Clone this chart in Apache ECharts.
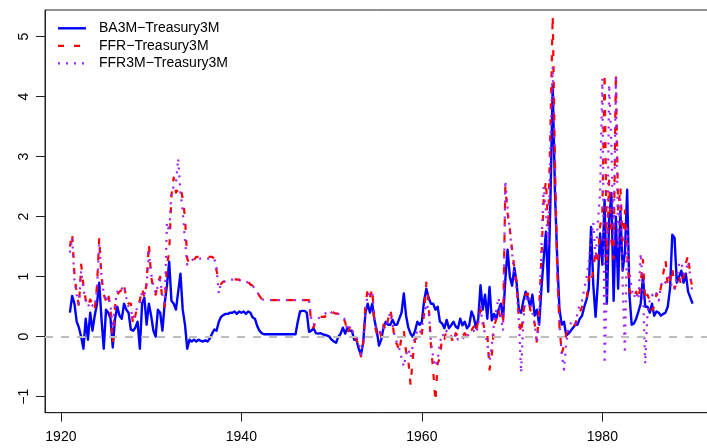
<!DOCTYPE html>
<html>
<head>
<meta charset="utf-8">
<script src="https://cdn.jsdelivr.net/npm/echarts@6/dist/echarts.min.js"></script>
<style>
  html, body { margin: 0; padding: 0; background: #ffffff; }
  #chart { width: 707px; height: 448px; }
</style>
</head>
<body>
<div id="chart"></div>
<script>
// Quarterly spreads (percentage points), first observation 1921 Q1
const startYear = 1921;
const stepYears = 0.25;

const seriesNames = ['BA3M\u2212Treasury3M', 'FFR\u2212Treasury3M', 'FFR3M\u2212Treasury3M'];
const xTicks = [1920, 1940, 1960, 1980];
const yTicks = [-1, 0, 1, 2, 3, 4, 5];

// Bankers' acceptance 3M minus Treasury 3M
const ba3m = [
  0.40, 0.68, 0.55, 0.25,   // 1921
  0.15, 0.00, -0.20, 0.30,  // 1922
  -0.05, 0.40, 0.10, 0.35,  // 1923
  0.55, 0.90, 0.30, -0.20,  // 1924
  0.45, 0.40, 0.30, -0.18,  // 1925
  0.30, 0.50, 0.35, 0.30,   // 1926
  0.55, 0.45, 0.40, 0.12,   // 1927
  0.10, 0.15, 0.25, -0.20,  // 1928
  0.55, 0.65, 0.20, 0.55,   // 1929
  0.35, 0.10, 0.00, 0.45,   // 1930
  0.40, 0.10, 0.55, 0.85,   // 1931
  1.25, 0.60, 0.55, 0.45,   // 1932
  0.75, 1.05, 0.45, 0.20,   // 1933
  -0.20, -0.05, -0.08, -0.05, // 1934
  -0.08, -0.05, -0.07, -0.08, // 1935
  -0.06, -0.08, -0.03, 0.05,  // 1936
  0.12, 0.10, 0.25, 0.33,   // 1937
  0.36, 0.38, 0.38, 0.40,   // 1938
  0.40, 0.42, 0.38, 0.42,   // 1939
  0.40, 0.42, 0.38, 0.42,   // 1940
  0.40, 0.32, 0.30, 0.18,   // 1941
  0.10, 0.06, 0.04, 0.04,   // 1942
  0.04, 0.04, 0.04, 0.04,   // 1943
  0.04, 0.04, 0.04, 0.04,   // 1944
  0.04, 0.04, 0.04, 0.04,   // 1945
  0.04, 0.25, 0.42, 0.43,   // 1946
  0.43, 0.40, 0.08, 0.10,   // 1947
  0.14, 0.06, 0.05, 0.06,   // 1948
  0.04, 0.03, 0.02, 0.00,   // 1949
  -0.05, -0.08, -0.10, 0.00, // 1950
  0.05, 0.15, 0.05, 0.15,   // 1951
  0.10, 0.10, -0.05, -0.05, // 1952
  -0.20, -0.30, -0.10, 0.40, // 1953
  0.55, 0.40, 0.55, 0.28,   // 1954
  0.10, -0.15, -0.05, 0.15, // 1955
  0.25, 0.20, 0.20, 0.28,   // 1956
  0.20, 0.20, 0.30, 0.40,   // 1957
  0.72, 0.35, 0.15, 0.05,   // 1958
  0.00, 0.10, 0.25, 0.20,   // 1959
  0.25, 0.60, 0.80, 0.65,   // 1960
  0.55, 0.55, 0.45, 0.50,   // 1961
  0.25, 0.22, 0.14, 0.28,   // 1962
  0.14, 0.19, 0.25, 0.17,   // 1963
  0.14, 0.30, 0.19, 0.25,   // 1964
  0.14, 0.19, 0.42, 0.33,   // 1965
  0.15, 0.30, 0.86, 0.45,   // 1966
  0.70, 0.30, 0.83, 0.27,   // 1967
  0.38, 0.30, 0.45, 0.55,   // 1968
  0.30, 0.95, 1.45, 1.00,   // 1969
  0.85, 1.15, 0.90, 0.45,   // 1970
  0.40, 0.60, 0.75, 0.65,   // 1971
  0.50, 0.70, 0.35, 0.45,   // 1972
  0.20, 0.80, 1.30, 1.75,   // 1973
  0.75, 2.30, 4.20, 2.40,   // 1974
  1.30, 0.45, 0.20, 0.25,   // 1975
  0.02, 0.05, 0.10, 0.15,   // 1976
  0.20, 0.20, 0.30, 0.35,   // 1977
  0.50, 0.62, 0.80, 1.83,   // 1978
  0.85, 0.33, 0.90, 1.72,   // 1979
  1.20, 2.28, 0.55, 1.94,   // 1980
  2.39, 0.60, 2.00, 0.80,   // 1981
  2.10, 1.10, 1.40, 2.45,   // 1982
  0.70, 0.20, 0.22, 0.30,   // 1983
  0.42, 0.55, 1.00, 0.50,   // 1984
  0.50, 0.40, 0.55, 0.35,   // 1985
  0.42, 0.40, 0.35, 0.38,   // 1986
  0.40, 0.50, 0.80, 1.70,   // 1987
  1.65, 0.90, 1.00, 1.10,   // 1988
  0.90, 1.05, 0.75, 0.65,   // 1989
  0.55                      // 1990
];

// Federal funds (call money) rate minus Treasury 3M
const ffr = [
  1.50, 1.72, 1.05, 0.72,   // 1921
  0.50, 1.20, 0.85, 0.62,   // 1922
  0.50, 0.62, 0.55, 0.45,   // 1923
  0.85, 1.65, 1.00, 0.70,   // 1924
  0.60, 0.72, 0.45, -0.10,  // 1925
  0.50, 0.70, 0.75, 0.78,   // 1926
  0.88, 0.60, 0.55, 0.55,   // 1927
  0.20, 0.35, 0.55, 0.60,   // 1928
  0.80, 0.65, 0.90, 1.55,   // 1929
  1.00, 0.80, 0.70, 0.90,   // 1930
  1.00, 0.60, 0.50, 1.20,   // 1931
  1.40, 2.35, 2.65, 2.40,   // 1932
  2.45, 2.50, 2.30, 2.00,   // 1933
  1.30, 1.20, 1.25, 1.28,   // 1934
  1.33, 1.33, 1.33, 1.33,   // 1935
  1.33, 1.33, 1.33, 1.33,   // 1936
  1.30, 1.10, 0.95, 0.88,   // 1937
  0.92, 0.92, 0.92, 0.95,   // 1938
  0.95, 0.96, 0.95, 0.95,   // 1939
  0.90, 0.90, 0.92, 0.92,   // 1940
  0.87, 0.85, 0.80, 0.75,   // 1941
  0.68, 0.63, 0.61, 0.61,   // 1942
  0.61, 0.61, 0.61, 0.61,   // 1943
  0.61, 0.61, 0.61, 0.61,   // 1944
  0.61, 0.61, 0.61, 0.61,   // 1945
  0.61, 0.61, 0.61, 0.61,   // 1946
  0.61, 0.61, 0.61, 0.22,   // 1947
  0.15, 0.28, 0.33, 0.33,   // 1948
  0.33, 0.33, 0.40, 0.44,   // 1949
  0.42, 0.40, 0.38, 0.40,   // 1950
  0.38, 0.30, 0.25, 0.05,   // 1951
  0.15, 0.12, 0.00, -0.05,  // 1952
  -0.15, -0.33, -0.10, 0.55, // 1953
  0.78, 0.65, 0.80, 0.20,   // 1954
  0.05, 0.15, 0.00, 0.20,   // 1955
  0.10, 0.28, 0.45, 0.25,   // 1956
  -0.10, -0.12, -0.25, 0.00, // 1957
  0.10, -0.25, -0.40, -0.80, // 1958
  -0.35, -0.05, 0.00, 0.10, // 1959
  0.05, 0.40, 0.90, 0.55,   // 1960
  -0.15, -0.55, -1.08, -0.45, // 1961
  -0.35, 0.00, -0.04, 0.11, // 1962
  0.06, 0.00, -0.11, 0.06,  // 1963
  0.00, -0.05, 0.00, 0.06,  // 1964
  0.00, 0.11, 0.11, 0.17,   // 1965
  0.06, 0.28, 0.45, 0.28,   // 1966
  0.06, 0.05, -0.55, -0.30, // 1967
  0.17, 0.30, 0.45, 0.28,   // 1968
  0.22, 2.50, 2.05, 1.80,   // 1969
  1.45, 1.15, 0.90, 0.30,   // 1970
  0.05, 0.40, 0.70, 0.72,   // 1971
  0.45, 0.39, 0.22, -0.10,  // 1972
  0.50, 1.30, 2.28, 2.60,   // 1973
  1.80, 3.50, 5.35, 2.90,   // 1974
  1.10, 0.17, -0.28, -0.15, // 1975
  0.05, 0.12, 0.12, 0.18,   // 1976
  0.20, 0.35, 0.40, 0.50,   // 1977
  0.55, 0.60, 1.00, 0.90,   // 1978
  1.10, 1.45, 1.20, 1.83,   // 1979
  2.10, 4.39, 1.28, 2.60,   // 1980
  1.60, 1.30, 4.39, 2.10,   // 1981
  2.50, 1.60, 2.10, 1.40,   // 1982
  0.80, 0.65, 0.65, 0.75,   // 1983
  0.62, 0.90, 1.28, 0.60,   // 1984
  0.70, 0.60, 0.44, 0.50,   // 1985
  0.72, 0.65, 0.83, 1.05,   // 1986
  1.28, 0.83, 0.95, 1.15,   // 1987
  0.80, 0.90, 1.00, 0.85,   // 1988
  1.00, 1.22, 1.36, 1.00,   // 1989
  0.78                      // 1990
];

// Three-month federal funds rate minus Treasury 3M
const ffr3m = [
  1.40, 1.65, 0.95, 0.70,   // 1921
  0.55, 1.10, 0.80, 0.60,   // 1922
  0.50, 0.58, 0.52, 0.50,   // 1923
  0.80, 1.55, 1.00, 0.72,   // 1924
  0.58, 0.68, 0.50, 0.15,   // 1925
  0.55, 0.75, 0.72, 0.80,   // 1926
  0.85, 0.65, 0.50, 0.45,   // 1927
  0.30, 0.40, 0.50, 0.55,   // 1928
  0.75, 0.70, 0.85, 1.40,   // 1929
  1.05, 0.85, 0.72, 0.85,   // 1930
  0.95, 0.70, 0.55, 1.90,   // 1931
  1.75, 2.40, 2.50, 2.55,   // 1932
  2.97, 2.40, 2.10, 1.60,   // 1933
  1.20, 1.25, 1.27, 1.30,   // 1934
  1.30, 1.30, 1.30, 1.30,   // 1935
  1.30, 1.30, 1.30, 1.30,   // 1936
  1.30, 1.15, 0.72, 0.90,   // 1937
  0.92, 0.92, 0.93, 0.95,   // 1938
  0.95, 0.95, 0.95, 0.95,   // 1939
  0.92, 0.92, 0.92, 0.90,   // 1940
  0.88, 0.85, 0.80, 0.75,   // 1941
  0.68, 0.63, 0.61, 0.61,   // 1942
  0.61, 0.61, 0.61, 0.61,   // 1943
  0.61, 0.61, 0.61, 0.61,   // 1944
  0.61, 0.61, 0.61, 0.61,   // 1945
  0.61, 0.61, 0.61, 0.61,   // 1946
  0.61, 0.61, 0.61, 0.30,   // 1947
  0.20, 0.25, 0.30, 0.33,   // 1948
  0.35, 0.38, 0.42, 0.44,   // 1949
  0.40, 0.42, 0.40, 0.38,   // 1950
  0.36, 0.32, 0.28, 0.10,   // 1951
  0.18, 0.10, 0.05, 0.00,   // 1952
  -0.10, -0.30, -0.05, 0.45, // 1953
  0.72, 0.70, 0.75, 0.30,   // 1954
  0.10, 0.10, 0.05, 0.15,   // 1955
  0.15, 0.30, 0.40, 0.20,   // 1956
  0.00, -0.10, -0.20, -0.35, // 1957
  -0.50, -0.30, -0.20, -0.35, // 1958
  -0.15, 0.00, 0.10, 0.05,  // 1959
  0.15, 0.35, 0.55, 0.45,   // 1960
  -0.05, -0.35, -0.50, -0.40, // 1961
  -0.10, 0.05, 0.00, 0.10,  // 1962
  0.05, 0.00, -0.05, 0.05,  // 1963
  -0.05, -0.05, 0.00, -0.05, // 1964
  0.00, 0.05, 0.10, 0.10,   // 1965
  0.05, 0.20, 0.50, 0.20,   // 1966
  0.05, -0.10, -0.40, -0.15, // 1967
  0.25, 0.45, 0.65, 0.35,   // 1968
  0.10, 2.60, 2.15, 1.75,   // 1969
  1.40, 1.00, 0.80, 0.25,   // 1970
  -0.60, 0.30, 0.60, 0.70,  // 1971
  0.55, 0.40, 0.20, -0.10,  // 1972
  0.30, 1.50, 2.50, 2.10,   // 1973
  1.50, 3.20, 4.50, 2.90,   // 1974
  1.00, 0.20, -0.30, -0.55, // 1975
  -0.10, 0.15, 0.22, 0.25,  // 1976
  0.20, 0.40, 0.55, 0.60,   // 1977
  0.80, 1.00, 1.25, 1.60,   // 1978
  1.90, 1.30, 1.90, 2.40,   // 1979
  4.30, -0.45, 0.80, 4.20,  // 1980
  3.20, 1.60, 4.30, 1.50,   // 1981
  2.30, 0.90, -0.28, 1.80,  // 1982
  1.10, 0.80, 0.65, 0.75,   // 1983
  0.62, 1.39, 0.80, -0.45,  // 1984
  0.40, 0.60, 0.70, 0.65,   // 1985
  0.72, 0.60, 0.85, 0.95,   // 1986
  0.90, 1.00, 0.95, 0.80,   // 1987
  0.78, 1.00, 1.20, 1.25,   // 1988
  1.05, 1.10, 1.25, 1.00,   // 1989
  0.70                      // 1990
];

// Pair each value with its calendar time
function toPairs(values) {
  return values.map((v, i) => [startYear + i * stepYears, v]);
}

const FONT = "'Liberation Sans', Arial, Helvetica, sans-serif";
const AXIS_COLOR = '#222222';
const COLORS = ['#0000ff', '#ff0000', '#a020f0'];
const DASHES = ['solid', [6, 10], [2, 6]];
const WIDTHS = [2.4, 2.2, 2.2];

const chart = echarts.init(document.getElementById('chart'), null, { renderer: 'canvas' });

// Borderless legend in the top-left corner of the plot box
const legendRows = seriesNames.map((name, i) => {
  const y = 28.3 + i * 17.5;
  return [
    {
      type: 'line',
      shape: { x1: 58, y1: y, x2: 86, y2: y },
      style: {
        stroke: COLORS[i],
        lineWidth: WIDTHS[i],
        lineDash: Array.isArray(DASHES[i]) ? DASHES[i] : null
      }
    },
    {
      type: 'text',
      x: 99,
      y: y,
      style: {
        text: name,
        fill: '#000000',
        font: '14px ' + FONT,
        textAlign: 'left',
        textVerticalAlign: 'middle'
      }
    }
  ];
}).flat();

const option = {
  animation: false,
  backgroundColor: '#ffffff',
  grid: {
    left: 45,
    right: -10.5,
    top: 10,
    bottom: 35.3,
    containLabel: false,
    outerBoundsMode: 'none',
    show: true,
    borderColor: AXIS_COLOR,
    borderWidth: 1,
    backgroundColor: 'transparent'
  },
  xAxis: {
    type: 'value',
    min: 1918.24,
    max: 1992.76,
    splitLine: { show: false },
    axisLine: { show: true, onZero: false, lineStyle: { color: AXIS_COLOR, width: 1 } },
    axisTick: { show: true, length: 9, lineStyle: { color: AXIS_COLOR }, customValues: xTicks },
    axisLabel: {
      customValues: xTicks,
      margin: 17,
      color: '#000000',
      fontSize: 14,
      fontFamily: FONT,
      formatter: (v) => String(v)
    }
  },
  yAxis: {
    type: 'value',
    min: -1.267,
    max: 5.445,
    splitLine: { show: false },
    axisLine: { show: true, onZero: false, lineStyle: { color: AXIS_COLOR, width: 1 } },
    axisTick: { show: true, length: 9, lineStyle: { color: AXIS_COLOR }, customValues: yTicks },
    axisLabel: {
      customValues: yTicks,
      rotate: 90,
      margin: 14,
      color: '#000000',
      fontSize: 14,
      fontFamily: FONT,
      formatter: (v) => String(v).replace('-', '\u2212')
    }
  },
  series: [ba3m, ffr, ffr3m].map((values, i) => ({
    name: seriesNames[i],
    type: 'line',
    data: toPairs(values),
    showSymbol: false,
    symbol: 'none',
    clip: true,
    z: 2 + i,
    lineStyle: { color: COLORS[i], width: WIDTHS[i], type: DASHES[i], cap: 'butt', join: 'round' },
    markLine: i === 0 ? {
      silent: true,
      symbol: 'none',
      label: { show: false },
      lineStyle: { color: '#bebebe', width: 2, type: [8, 8] },
      data: [{ yAxis: 0 }]
    } : undefined
  })),
  graphic: { elements: legendRows }
};

chart.setOption(option);
</script>
</body>
</html>
